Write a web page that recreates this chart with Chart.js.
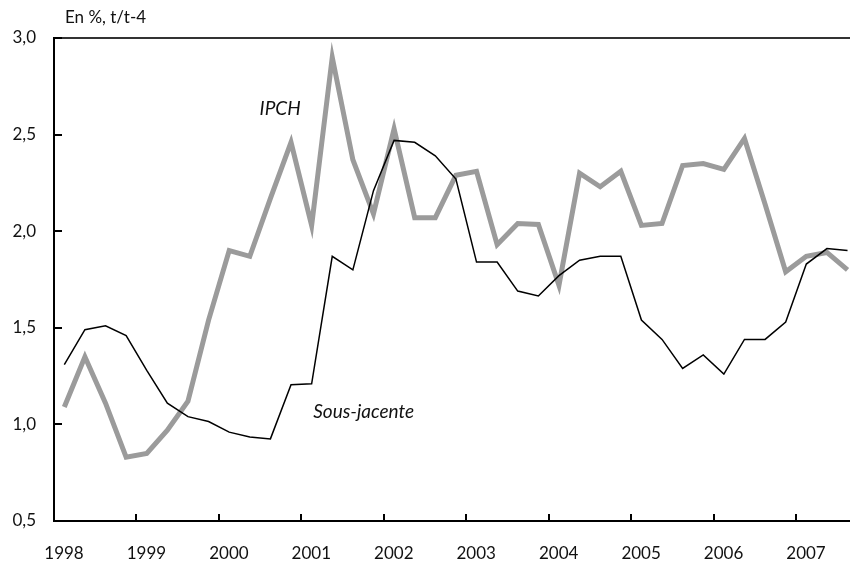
<!DOCTYPE html>
<html>
<head>
<meta charset="utf-8">
<script src="https://cdn.jsdelivr.net/npm/chart.js@4/dist/chart.umd.min.js"></script>
<style>
  html, body { margin: 0; padding: 0; background: #fff; }
  #wrap { width: 850px; height: 566px; position: relative; }
</style>
</head>
<body>
<div id="wrap"><canvas id="c"></canvas></div>
<script>
// Quarterly observations, 1998Q1 .. 2007Q3
const startYear = 1998;
const quarterCount = 39;
const yearTicks = [1998, 1999, 2000, 2001, 2002, 2003, 2004, 2005, 2006, 2007];
const yTicks = [0.5, 1.0, 1.5, 2.0, 2.5, 3.0];

const ipch = [
  1.09, 1.35, 1.11, 0.83,
  0.85, 0.97, 1.12, 1.54,
  1.90, 1.87, 2.17, 2.46,
  2.03, 2.90, 2.37, 2.09,
  2.53, 2.07, 2.07, 2.29,
  2.31, 1.93, 2.04, 2.035,
  1.72, 2.30, 2.23, 2.31,
  2.03, 2.04, 2.34, 2.35,
  2.32, 2.48, 2.14, 1.79,
  1.87, 1.89, 1.80
];
const sousJacente = [
  1.31, 1.49, 1.51, 1.46,
  1.28, 1.11, 1.04, 1.015,
  0.96, 0.935, 0.925, 1.205,
  1.21, 1.87, 1.80, 2.21,
  2.47, 2.46, 2.39, 2.27,
  1.84, 1.84, 1.69, 1.665,
  1.77, 1.85, 1.87, 1.87,
  1.54, 1.44, 1.29, 1.36,
  1.26, 1.44, 1.44, 1.53,
  1.83, 1.91, 1.90
];

const seriesLabels = { ipch: 'IPCH', sj: 'Sous-jacente' };
const unitLabel = 'En %, t/t-4';

// x position of each quarter = middle of the quarter
const xs = Array.from({ length: quarterCount }, (_, i) => startYear + Math.floor(i / 4) + ((i % 4) + 0.5) / 4);
const toPts = arr => arr.map((v, i) => ({ x: xs[i], y: v }));

const FONT = 'Lato, "Open Sans", sans-serif';

const decor = {
  id: 'decor',
  afterDraw(chart) {
    const ctx = chart.ctx;
    const ca = chart.chartArea;
    const xS = chart.scales.x, yS = chart.scales.y;
    ctx.save();
    // top frame line
    ctx.strokeStyle = '#333';
    ctx.lineWidth = 2;
    ctx.beginPath();
    ctx.moveTo(ca.left, ca.top);
    ctx.lineTo(ca.right, ca.top);
    ctx.stroke();
    // inner tick marks
    ctx.strokeStyle = '#000';
    ctx.lineWidth = 2;
    yTicks.forEach(v => {
      const py = Math.round(yS.getPixelForValue(v));
      ctx.beginPath();
      ctx.moveTo(ca.left, py);
      ctx.lineTo(ca.left + 8, py);
      ctx.stroke();
    });
    yearTicks.forEach(v => {
      const px = Math.round(xS.getPixelForValue(v));
      ctx.beginPath();
      ctx.moveTo(px, ca.bottom);
      ctx.lineTo(px, ca.bottom - 7);
      ctx.stroke();
    });
    // unit label
    ctx.fillStyle = '#111';
    ctx.font = '17px ' + FONT;
    ctx.textAlign = 'left';
    ctx.textBaseline = 'middle';
    ctx.fillText(unitLabel, ca.left + 11, ca.top - 20);
    // series labels
    ctx.font = 'italic 19px ' + FONT;
    ctx.textAlign = 'center';
    ctx.fillText(seriesLabels.ipch, xS.getPixelForValue(2000.743), yS.getPixelForValue(2.632));
    ctx.fillText(seriesLabels.sj, xS.getPixelForValue(2001.756), yS.getPixelForValue(1.064));
    ctx.restore();
  }
};

new Chart(document.getElementById('c'), {
  type: 'line',
  data: {
    datasets: [
      {
        label: seriesLabels.sj,
        data: toPts(sousJacente),
        borderColor: '#000',
        borderWidth: 1.5,
        pointRadius: 0,
        tension: 0,
        order: 0
      },
      {
        label: seriesLabels.ipch,
        data: toPts(ipch),
        borderColor: '#9b9b9b',
        borderWidth: 5,
        pointRadius: 0,
        tension: 0,
        order: 1
      }
    ]
  },
  options: {
    responsive: true,
    maintainAspectRatio: false,
    animation: false,
    events: [],
    layout: { padding: { top: 38, right: 0, left: 0, bottom: 0 } },
    plugins: { legend: { display: false }, tooltip: { enabled: false }, title: { display: false } },
    scales: {
      x: {
        type: 'linear',
        min: 1998,
        max: 2007.655,
        afterBuildTicks: s => { s.ticks = yearTicks.map(v => ({ value: v })); },
        afterFit: s => { s.height = 45; },
        grid: { display: false, drawTicks: false },
        border: { display: true, color: '#000', width: 2 },
        ticks: {
          color: '#111',
          font: { family: FONT, size: 17 },
          padding: 22,
          labelOffset: 10,
          maxRotation: 0,
          autoSkip: false,
          callback: v => String(v)
        }
      },
      y: {
        min: 0.5,
        max: 3.0,
        afterBuildTicks: s => { s.ticks = yTicks.map(v => ({ value: v })); },
        afterFit: s => { s.width = 54; },
        grid: { display: false, drawTicks: false },
        border: { display: true, color: '#000', width: 2 },
        ticks: {
          color: '#111',
          font: { family: FONT, size: 17 },
          padding: 18,
          callback: v => Number(v).toFixed(1).replace('.', ',')
        }
      }
    }
  },
  plugins: [decor]
});
</script>
</body>
</html>
